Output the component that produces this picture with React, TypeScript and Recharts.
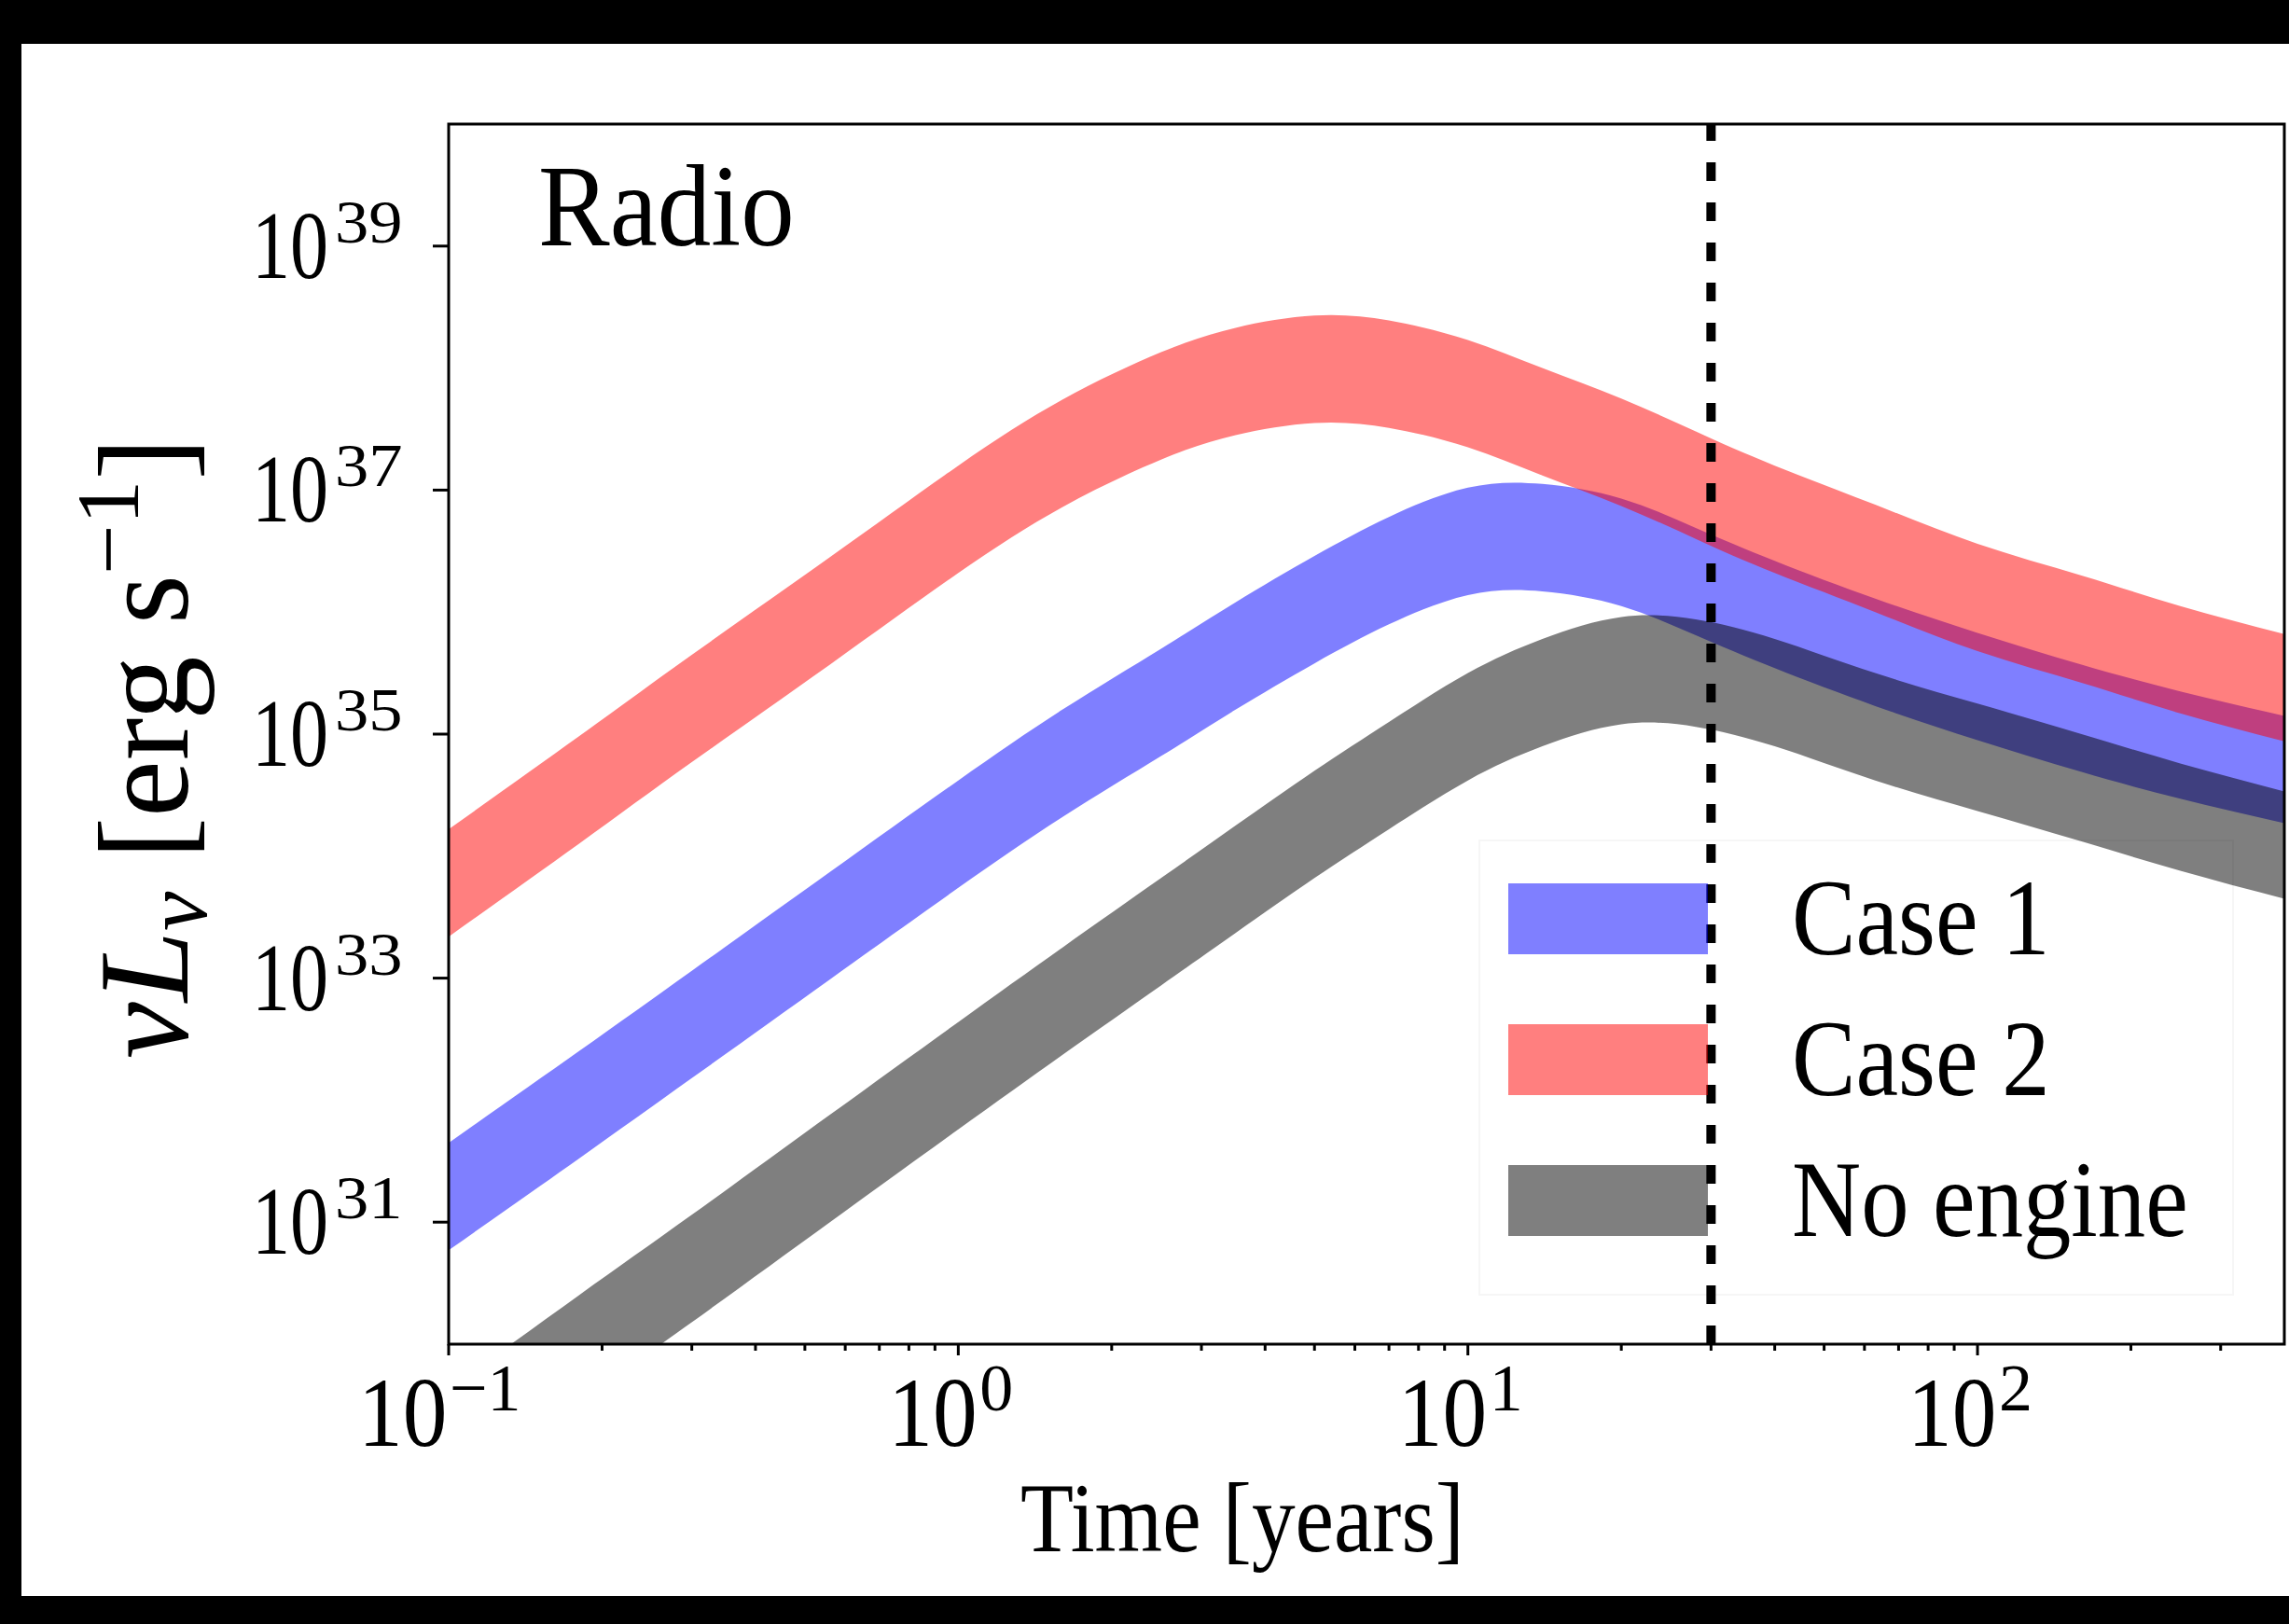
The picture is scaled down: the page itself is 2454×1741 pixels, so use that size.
import { ComposedChart, Area, XAxis, YAxis, ReferenceLine, ReferenceArea, Legend } from 'recharts';

// time samples in years
const times = [0.1, 0.18, 0.3, 0.56, 1, 1.6, 2.5, 3.5, 5, 7, 10, 14, 20, 28, 40, 63, 100, 160, 250, 400];

// band edges, log10(nuL_nu / erg s^-1)
const case1Hi = [31.65, 32.4, 33.06, 33.87, 34.62, 35.2, 35.7, 36.08, 36.46, 36.78, 37.02, 37.05, 36.93, 36.69, 36.42, 36.11, 35.83, 35.57, 35.35, 35.15];
const case1Lo = [30.77, 31.52, 32.18, 32.99, 33.74, 34.32, 34.82, 35.2, 35.58, 35.9, 36.14, 36.17, 36.05, 35.81, 35.54, 35.23, 34.95, 34.69, 34.47, 34.27];
const case2Hi = [34.22, 34.98, 35.65, 36.45, 37.2, 37.74, 38.13, 38.33, 38.43, 38.39, 38.23, 38.0, 37.75, 37.48, 37.2, 36.88, 36.56, 36.3, 36.05, 35.82];
const case2Lo = [33.34, 34.1, 34.77, 35.57, 36.32, 36.86, 37.25, 37.45, 37.55, 37.51, 37.35, 37.12, 36.87, 36.6, 36.32, 36.0, 35.68, 35.42, 35.17, 34.94];
const noEngineHi = [29.63, 30.4, 31.06, 31.88, 32.64, 33.25, 33.82, 34.25, 34.7, 35.1, 35.5, 35.78, 35.96, 35.94, 35.78, 35.5, 35.25, 35.0, 34.76, 34.53];
const noEngineLo = [28.75, 29.52, 30.18, 31.0, 31.76, 32.37, 32.94, 33.37, 33.82, 34.22, 34.62, 34.9, 35.08, 35.06, 34.9, 34.62, 34.37, 34.12, 33.88, 33.65];

const xMajorTicks = [0.1, 1, 10, 100];
const xMajorExps = ['\u22121', '0', '1', '2'];
const xMinorTicks = [0.2, 0.3, 0.4, 0.5, 0.6, 0.7, 0.8, 0.9, 2, 3, 4, 5, 6, 7, 8, 9, 20, 30, 40, 50, 60, 70, 80, 90, 200, 300];
const yTicks = [1e31, 1e33, 1e35, 1e37, 1e39];
const yTickExps = ['31', '33', '35', '37', '39'];
const markerTime = 30;

const SERIES = [
  { key: 'case1', name: 'Case 1', color: '#0000ff' },
  { key: 'case2', name: 'Case 2', color: '#ff0000' },
  { key: 'noEngine', name: 'No engine', color: '#000000' },
];

const pow = (v: number) => Math.pow(10, v);

const data = times.map((t, i) => ({
  t,
  case1: [pow(case1Lo[i]), pow(case1Hi[i])],
  case2: [pow(case2Lo[i]), pow(case2Hi[i])],
  noEngine: [pow(noEngineLo[i]), pow(noEngineHi[i])],
}));

const FONT = '"Liberation Serif", "DejaVu Serif", serif';

// text squeezed horizontally, like the original figure
function SText({ x, y, sx = 1, size, children }: any) {
  return (
    <g transform={`translate(${x}, ${y}) scale(${sx}, 1)`}>
      <text x={0} y={0} fontFamily={FONT} fontSize={size} fill="#000">
        {children}
      </text>
    </g>
  );
}

function XTick({ x, y, payload }: any) {
  const i = xMajorTicks.indexOf(payload.value);
  const major = i >= 0;
  let label = null;
  if (major) {
    const exp = xMajorExps[i];
    const supW = exp.length > 1 ? 80 : 36;
    const start = x - 9 - (96 + supW) / 2;
    label = (
      <g>
        <SText x={start} y={y + 109} sx={0.9} size={106}>10</SText>
        <SText x={start + 98} y={y + 71} size={72}>{exp}</SText>
      </g>
    );
  }
  return (
    <g>
      <line x1={x} x2={x} y1={y} y2={y + (major ? 12 : 7)} stroke="#000" strokeWidth={3} />
      {label}
    </g>
  );
}

function YTick({ x, y, payload }: any) {
  const i = yTicks.indexOf(payload.value);
  return (
    <g>
      <line x1={x - 17} x2={x} y1={y} y2={y} stroke="#000" strokeWidth={3} />
      <SText x={x - 211} y={y + 34} sx={0.79} size={104}>10</SText>
      <SText x={x - 122} y={y - 4} sx={1.1} size={66}>{yTickExps[i]}</SText>
    </g>
  );
}

function LegendBox() {
  const rows = [
    { ...SERIES[0], top: 47 },
    { ...SERIES[1], top: 198 },
    { ...SERIES[2], top: 349 },
  ];
  return (
    <svg width={860} height={489} style={{ display: 'block', overflow: 'visible' }}>
      <rect x={1} y={1} width={808} height={487} fill="none" stroke="#000" strokeOpacity={0.035} strokeWidth={2} />
      {rows.map((r) => (
        <g key={r.key}>
          <rect x={32} y={r.top} width={214} height={76} fill={r.color} fillOpacity={0.5} />
          <SText x={336} y={r.top + 76} sx={0.885} size={116}>{r.name}</SText>
        </g>
      ))}
    </svg>
  );
}

export default function App() {
  return (
    <div style={{ position: 'absolute', left: 0, top: 0, width: 2454, height: 1741, background: '#000' }}>
      <div style={{ position: 'absolute', left: 23, top: 47, width: 2431, height: 1664, background: '#fff' }} />
      <div style={{ position: 'absolute', left: 0, top: 0 }}>
        <ComposedChart width={2454} height={1741} data={data} margin={{ top: 133, right: 5, bottom: 100, left: 281 }}>
          <XAxis
            dataKey="t"
            type="number"
            scale="log"
            domain={[0.1, 400]}
            allowDataOverflow
            ticks={[...xMajorTicks, ...xMinorTicks]}
            interval={0}
            tick={<XTick />}
            tickSize={0}
            tickMargin={0}
            tickLine={false}
            axisLine={false}
            height={200}
          />
          <YAxis
            type="number"
            scale="log"
            domain={[1e30, 1e40]}
            allowDataOverflow
            ticks={yTicks}
            interval={0}
            tick={<YTick />}
            tickSize={0}
            tickMargin={0}
            tickLine={false}
            axisLine={false}
            width={200}
          />
          {SERIES.map((s) => (
            <Area
              key={s.key}
              dataKey={s.key}
              name={s.name}
              type="natural"
              fill={s.color}
              fillOpacity={0.5}
              stroke="none"
              dot={false}
              activeDot={false}
              isAnimationActive={false}
            />
          ))}
          <ReferenceLine x={markerTime} stroke="#000" strokeWidth={10} strokeDasharray="20 23" />
          <ReferenceArea x1={0.1} x2={400} y1={1e30} y2={1e40} fill="none" stroke="#000" strokeWidth={3} />
          <Legend
            layout="vertical"
            align="center"
            verticalAlign="middle"
            content={<LegendBox />}
            wrapperStyle={{ position: 'absolute', left: 1585, top: 900, width: 860, height: 489, bottom: 'auto' }}
          />
          <SText x={577} y={263} sx={0.92} size={125}>Radio</SText>
          <SText x={1094} y={1663} sx={0.88} size={106}>Time [years]</SText>
          <text x={201} y={1135} transform="rotate(-90, 201, 1135)" fontFamily={FONT} fontSize={137}>
            <tspan fontStyle="italic">{'\u03bdL'}</tspan>
            <tspan fontStyle="italic" fontSize={95} dy={20}>{'\u03bd'}</tspan>
            <tspan dy={-20}>{' [erg s'}</tspan>
            <tspan fontSize={95} dy={-53}>{'\u22121'}</tspan>
            <tspan dy={53}>]</tspan>
          </text>
        </ComposedChart>
      </div>
    </div>
  );
}
